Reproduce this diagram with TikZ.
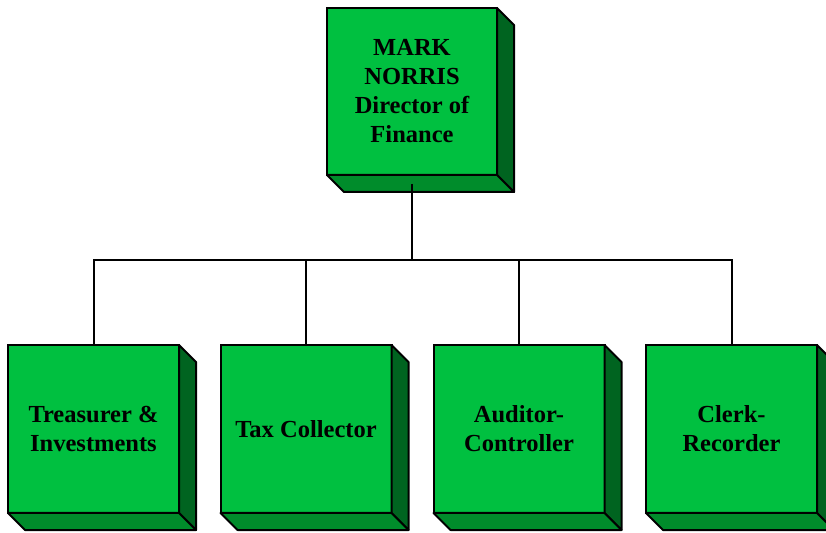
\documentclass[tikz,border=0pt]{standalone}
\usepackage{fontspec}
\setmainfont{Liberation Serif}
\usepackage{tikz}
\usetikzlibrary{positioning, calc}
\definecolor{facegreen}{HTML}{00C040}
\definecolor{bottomgreen}{HTML}{008C2B}
\definecolor{sidegreen}{HTML}{006420}

\begin{document}
\begin{tikzpicture}[x=1pt, y=1pt,
    unitbox/.style={fill=facegreen, draw=black, line width=2pt, outer sep=0pt,
                    minimum width=171pt, minimum height=168pt, inner sep=4pt, align=center,
                    font=\fontsize{24.5}{29}\selectfont\bfseries},
    sideface/.style={fill=sidegreen, draw=black, line width=2pt, line join=round},
    bottomface/.style={fill=bottomgreen, draw=black, line width=2pt, line join=round},
    orgline/.style={draw=black, line width=2pt}]
    \useasboundingbox (0,0) rectangle (826,532);

    \node[unitbox, minimum width=170pt, minimum height=167pt] (director) at (412,440.5)
      {MARK\\NORRIS\\Director of\\Finance};
    \node[unitbox] (treasurer) at (93.5,103) {Treasurer \&\\Investments};
    \node[unitbox] (taxcoll) at (306,103) {Tax Collector};
    \node[unitbox] (auditor) at (519,103) {Auditor-\\Controller};
    \node[unitbox] (clerk) at (731.5,103) {Clerk-\\Recorder};

    % depth of the boxes
    \foreach \n in {director, treasurer, taxcoll, auditor, clerk} {
      \draw[sideface] (\n.north east) -- ++(17,-17) -- ($(\n.south east)+(17,-17)$)
        -- (\n.south east) -- cycle;
      \draw[bottomface] (\n.south west) -- (\n.south east) -- ++(17,-17)
        -- ($(\n.south west)+(17,-17)$) -- cycle;
    }

    % connectors
    \draw[orgline, line width=2.5pt] ([yshift=-9]director.south) -- ++(0,-76) coordinate (bus);
    \draw[orgline] (treasurer.north) -- ++(0,85) -| (clerk.north);
    \foreach \n in {taxcoll, auditor}
      \draw[orgline] (\n.north) -- (\n.north |- bus);
\end{tikzpicture}
\end{document}
